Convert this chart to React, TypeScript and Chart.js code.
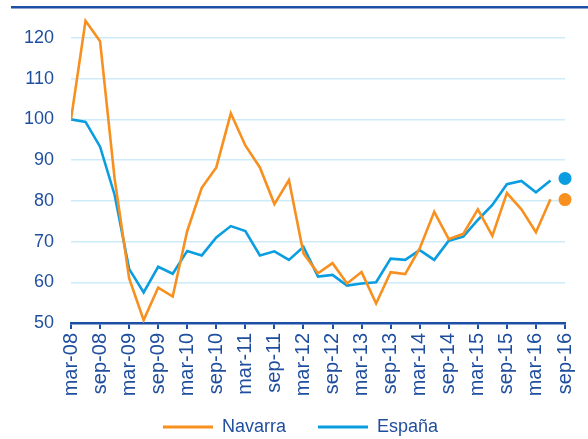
import React, { useEffect, useRef } from "react";
import { Chart, registerables } from "chart.js";

Chart.register(...registerables);

const quarterLabels = [
  "mar-08", "jun-08", "sep-08", "dic-08",
  "mar-09", "jun-09", "sep-09", "dic-09",
  "mar-10", "jun-10", "sep-10", "dic-10",
  "mar-11", "jun-11", "sep-11", "dic-11",
  "mar-12", "jun-12", "sep-12", "dic-12",
  "mar-13", "jun-13", "sep-13", "dic-13",
  "mar-14", "jun-14", "sep-14", "dic-14",
  "mar-15", "jun-15", "sep-15", "dic-15",
  "mar-16", "jun-16", "sep-16",
];

const yTickValues = [50, 60, 70, 80, 90, 100, 110, 120];

const navarra = [
  100, 124.2, 119.2, 85.5, 61.0, 50.7, 58.7, 56.5, 72.6, 83.2, 88.2, 101.5,
  93.6, 88.2, 79.2, 85.1, 67.1, 62.2, 64.7, 59.7, 62.5, 54.8, 62.5, 62.0,
  68.3, 77.3, 70.6, 71.9, 77.9, 71.4, 81.9, 77.9, 72.3, 80.4,
];

const espana = [
  100, 99.4, 93.3, 81.5, 63.3, 57.5, 63.8, 62.1, 67.7, 66.6, 71.0, 73.8,
  72.6, 66.6, 67.6, 65.5, 68.7, 61.4, 61.8, 59.2, 59.7, 60.0, 65.8, 65.5,
  67.9, 65.5, 70.2, 71.2, 75.3, 79.0, 84.1, 84.9, 82.1, 85.0,
];

const navarraLatest = 80.3;
const espanaLatest = 85.5;
const latestIndex = 34;

const seriesNames = ["Navarra", "España"];

const ORANGE = "#F7901E";
const BLUE = "#0A9DE0";
const DARK = "#1A4FA3";
const TEXT = "#1F4E9E";
const GRID = "#CDEBF8";
const FONT = 'Arial, "Liberation Sans", sans-serif';

const headerLine = {
  id: "headerLine",
  beforeDraw(chart: any) {
    const ctx = chart.ctx;
    ctx.save();
    ctx.fillStyle = DARK;
    ctx.fillRect(11, 6, chart.width - 11, 2.5);
    ctx.restore();
  },
};

// Keeps the legend compact vertically while using a wide gap between items.
const legendTweak = {
  id: "legendTweak",
  beforeLayout(chart: any) {
    const l = chart.legend;
    if (l && !l.__patched) {
      const origFit = l.fit.bind(l);
      l.fit = function () {
        origFit();
        this.height = 44;
      };
      l.__patched = true;
    }
  },
  afterLayout(chart: any) {
    const l = chart.legend;
    if (l) {
      l.top -= 16;
      l.left += 18;
      l.right += 18;
    }
  },
};

export default function App() {
  const ref = useRef<HTMLCanvasElement | null>(null);

  useEffect(() => {
    if (!ref.current) return;
    const toPts = (arr: number[]) => arr.map((v, i) => ({ x: i, y: v }));
    const chart = new Chart(ref.current, {
      type: "line",
      data: {
        datasets: [
          {
            label: seriesNames[0],
            data: toPts(navarra),
            borderColor: ORANGE,
            backgroundColor: ORANGE,
            borderWidth: 2.6,
            pointRadius: 0,
            tension: 0,
          },
          {
            label: seriesNames[1],
            data: toPts(espana),
            borderColor: BLUE,
            backgroundColor: BLUE,
            borderWidth: 2.6,
            pointRadius: 0,
            tension: 0,
          },
          {
            label: seriesNames[0] + " latest",
            data: [{ x: latestIndex, y: navarraLatest }],
            showLine: false,
            pointRadius: 6.5,
            pointBackgroundColor: ORANGE,
            pointBorderWidth: 0,
            borderColor: ORANGE,
            clip: false,
          },
          {
            label: seriesNames[1] + " latest",
            data: [{ x: latestIndex, y: espanaLatest }],
            showLine: false,
            pointRadius: 6.5,
            pointBackgroundColor: BLUE,
            pointBorderWidth: 0,
            borderColor: BLUE,
            clip: false,
          },
        ],
      },
      options: {
        animation: false,
        responsive: false,
        maintainAspectRatio: false,
        layout: { autoPadding: false, padding: { top: 17.6, right: 23, left: 0, bottom: -7 } },
        plugins: {
          tooltip: { enabled: false },
          legend: {
            position: "bottom",
            labels: {
              boxWidth: 50,
              boxHeight: 3,
              padding: 32,
              color: TEXT,
              font: { family: FONT, size: 18 },
              generateLabels: (ch: any) =>
                ch.data.datasets.slice(0, 2).map((ds: any, i: number) => ({
                  text: ds.label,
                  fillStyle: ds.borderColor,
                  strokeStyle: ds.borderColor,
                  lineWidth: 0,
                  hidden: false,
                  datasetIndex: i,
                  fontColor: TEXT,
                })),
            },
          },
        },
        scales: {
          x: {
            type: "linear",
            min: 0,
            max: latestIndex,
            afterFit: (s: any) => {
              s.height = 79;
              s.paddingLeft = 0;
              s.paddingRight = 0;
            },
            grid: {
              drawOnChartArea: false,
              drawTicks: true,
              tickLength: 6,
              color: DARK,
              lineWidth: 2,
            },
            border: { display: true, color: DARK, width: 2.5 },
            ticks: {
              stepSize: 2,
              autoSkip: false,
              minRotation: 90,
              maxRotation: 90,
              padding: 4,
              color: TEXT,
              font: { family: FONT, size: 20 },
              callback: (v: any) => quarterLabels[Math.round(Number(v))] ?? "",
            },
          },
          y: {
            min: 50,
            max: 125,
            afterBuildTicks: (s: any) => {
              s.ticks = yTickValues.map((v) => ({ value: v }));
            },
            afterFit: (s: any) => {
              s.width = 71;
              s.paddingTop = 0;
              s.paddingBottom = 0;
            },
            grid: { color: GRID, lineWidth: 1.5, drawTicks: false },
            border: { display: false },
            ticks: {
              padding: 17,
              color: TEXT,
              font: { family: FONT, size: 18 },
            },
          },
        },
      },
      plugins: [headerLine, legendTweak],
    } as any);
    return () => chart.destroy();
  }, []);

  return (
    <div style={{ position: "absolute", left: 0, top: 0, width: 588, height: 439 }}>
      <canvas ref={ref} width={588} height={439} style={{ width: 588, height: 439 }} />
    </div>
  );
}
